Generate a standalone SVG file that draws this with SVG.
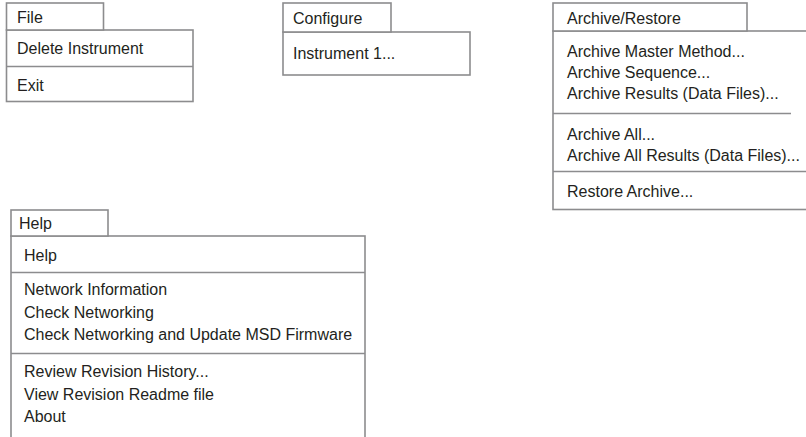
<svg xmlns="http://www.w3.org/2000/svg" width="806" height="437" viewBox="0 0 806 437">
<style>
.box{fill:#fff;stroke:#8c8c8e;stroke-width:1.6}
.sep{stroke:#8c8c8e;stroke-width:1.6;fill:none}
text{font-family:"Liberation Sans",Arial,sans-serif;font-size:16px;fill:#231f20}
</style>
<rect width="806" height="437" fill="#fff"/>
<g id="menu-file">
<rect class="box" x="6.5" y="30" width="186.5" height="71.5"/>
<rect class="box" x="6.5" y="3" width="97" height="27"/>
<text x="17" y="23">File</text>
<text x="17" y="54">Delete Instrument</text>
<line class="sep" x1="6.5" y1="66.5" x2="193" y2="66.5"/>
<text x="17" y="91">Exit</text>
</g>
<g id="menu-configure">
<rect class="box" x="283" y="32" width="187" height="43"/>
<rect class="box" x="283" y="3" width="108" height="29"/>
<text x="293" y="24">Configure</text>
<text x="293" y="59">Instrument 1...</text>
</g>
<g id="menu-archive">
<rect class="box" x="553" y="31" width="260" height="178.5"/>
<rect class="box" x="553" y="3" width="194" height="28"/>
<text x="567" y="24">Archive/Restore</text>
<text x="567" y="57">Archive Master Method...</text>
<text x="567" y="78">Archive Sequence...</text>
<text x="567" y="99">Archive Results (Data Files)...</text>
<line class="sep" x1="553" y1="113.5" x2="791" y2="113.5"/>
<text x="567" y="140">Archive All...</text>
<text x="567" y="161">Archive All Results (Data Files)...</text>
<line class="sep" x1="553" y1="171.5" x2="806" y2="171.5"/>
<text x="567" y="197">Restore Archive...</text>
</g>
<g id="menu-help">
<rect class="box" x="11" y="236" width="354" height="210"/>
<rect class="box" x="11" y="210" width="97" height="26"/>
<text x="19" y="229">Help</text>
<text x="24" y="261">Help</text>
<line class="sep" x1="11" y1="272.5" x2="365" y2="272.5"/>
<text x="24" y="295">Network Information</text>
<text x="24" y="317.5">Check Networking</text>
<text x="24" y="340">Check Networking and Update MSD Firmware</text>
<line class="sep" x1="11" y1="353.5" x2="365" y2="353.5"/>
<text x="24" y="377">Review Revision History...</text>
<text x="24" y="399.5">View Revision Readme file</text>
<text x="24" y="422">About</text>
</g>
<g id="connectors"></g>
</svg>
